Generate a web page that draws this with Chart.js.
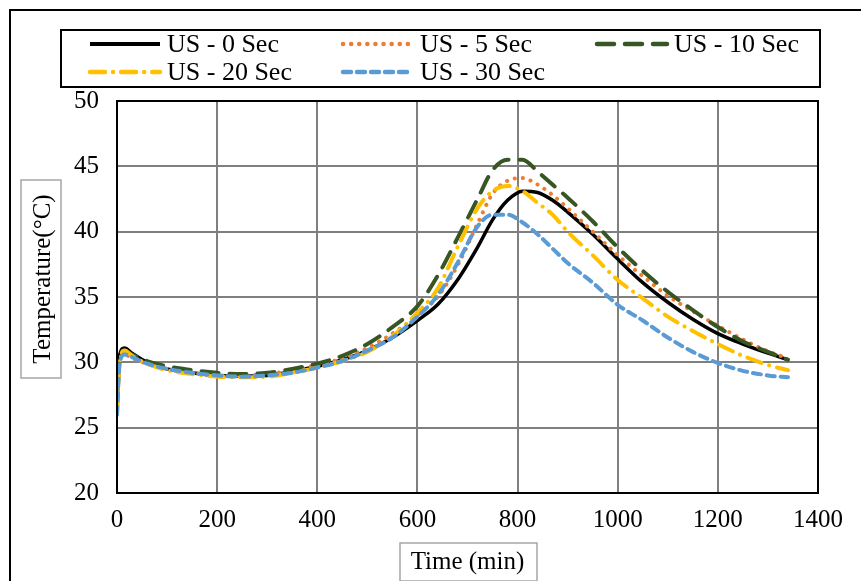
<!DOCTYPE html>
<html>
<head>
<meta charset="utf-8">
<script src="https://cdn.jsdelivr.net/npm/chart.js@4/dist/chart.umd.min.js"></script>
<style>
  html, body { margin: 0; padding: 0; background: #fff; }
  #wrap { width: 861px; height: 581px; position: relative; }
</style>
</head>
<body>
<div id="wrap"><canvas id="myChart" width="861" height="581"></canvas></div>
<script>
// time in minutes
const times = [0, 5, 15, 30, 60, 100, 150, 200, 250, 300, 350, 400, 450, 500, 550, 600, 640, 680, 720, 750, 780, 810, 840, 870, 900, 950, 1000, 1050, 1100, 1150, 1200, 1250, 1300, 1340];

const us0 = [27.0, 30.5, 31.1, 30.7, 30.0, 29.5, 29.2, 29.0, 28.95, 29.0, 29.3, 29.7, 30.2, 30.9, 31.9, 33.2, 34.4, 36.3, 38.8, 40.9, 42.4, 43.1, 43.0, 42.4, 41.5, 39.8, 37.9, 36.1, 34.6, 33.3, 32.2, 31.4, 30.7, 30.2];
const us5 = [28.0, 30.2, 30.6, 30.3, 29.9, 29.5, 29.2, 29.0, 29.0, 29.1, 29.4, 29.8, 30.3, 31.1, 32.2, 33.6, 35.0, 37.4, 40.6, 42.9, 43.9, 44.1, 43.6, 42.8, 41.8, 40.0, 38.2, 36.6, 35.1, 33.9, 32.8, 31.75, 30.85, 30.3];
const us10 = [26.5, 30.0, 30.9, 30.6, 30.1, 29.7, 29.4, 29.2, 29.1, 29.2, 29.5, 29.9, 30.5, 31.4, 32.7, 34.3, 36.6, 39.5, 42.5, 44.7, 45.5, 45.5, 44.6, 43.6, 42.6, 40.8, 38.8, 37.0, 35.4, 34.0, 32.7, 31.6, 30.8, 30.2];
const us20 = [26.0, 29.8, 30.9, 30.5, 29.9, 29.4, 29.1, 28.9, 28.85, 28.9, 29.2, 29.6, 30.1, 30.8, 32.0, 33.8, 35.6, 38.8, 41.8, 43.1, 43.5, 43.1, 42.2, 41.3, 40.0, 38.2, 36.3, 34.9, 33.5, 32.4, 31.4, 30.5, 29.8, 29.4];
const us30 = [26.0, 29.8, 30.6, 30.4, 29.9, 29.5, 29.2, 29.0, 28.9, 29.0, 29.2, 29.6, 30.1, 30.9, 31.9, 33.5, 35.1, 37.6, 40.4, 41.3, 41.3, 40.7, 39.8, 38.7, 37.6, 36.1, 34.4, 33.2, 31.9, 30.8, 29.95, 29.35, 29.0, 28.85];

const labels = ["US - 0 Sec", "US - 5 Sec", "US - 10 Sec", "US - 20 Sec", "US - 30 Sec"];
const xTicks = [0, 200, 400, 600, 800, 1000, 1200, 1400];
const yTicks = [20, 25, 30, 35, 40, 45, 50];
const yTitle = "Temperature(°C)";

const FONT = '"Liberation Serif", "Times New Roman", serif';

function pts(arr) {
  return times.map((t, i) => ({ x: t, y: arr[i] }));
}

const styles = [
  { color: "#000000", dash: [], width: 3.5, cap: "butt" },
  { color: "#ED7D31", dash: [0.1, 8], width: 4, cap: "round" },
  { color: "#375623", dash: [17, 11], width: 4, cap: "round" },
  { color: "#FFC000", dash: [15, 8, 0.1, 8], width: 4, cap: "round" },
  { color: "#5B9BD5", dash: [8, 6], width: 4, cap: "round" }
];
const series = [us0, us5, us10, us20, us30];

const datasets = series.map((arr, i) => ({
  label: labels[i],
  data: pts(arr),
  borderColor: styles[i].color,
  backgroundColor: styles[i].color,
  borderWidth: styles[i].width,
  borderDash: styles[i].dash,
  borderCapStyle: styles[i].cap,
  pointRadius: 0,
  fill: false,
  cubicInterpolationMode: "monotone",
  order: 4 - i
}));

// frame, legend box, y title and title boxes
const decor = {
  id: "decor",
  afterDraw(chart) {
    const ctx = chart.ctx;
    const a = chart.chartArea;
    ctx.save();
    // plot border
    ctx.strokeStyle = "#000";
    ctx.lineWidth = 2;
    ctx.strokeRect(a.left, a.top, a.right - a.left, a.bottom - a.top);
    // outer frame
    ctx.beginPath();
    ctx.moveTo(10, 581);
    ctx.lineTo(10, 10);
    ctx.lineTo(861, 10);
    ctx.stroke();
    // legend
    ctx.strokeRect(61, 30, 759, 57);
    const colX = [90, 343, 597];
    const rowY = [44, 72];
    ctx.font = "26px " + FONT;
    ctx.textBaseline = "middle";
    ctx.fillStyle = "#000";
    datasets.forEach((ds, i) => {
      const c = i % 3, r = Math.floor(i / 3);
      const x = colX[c], y = rowY[r];
      ctx.save();
      ctx.strokeStyle = ds.borderColor;
      ctx.lineWidth = ds.borderWidth + 0.5;
      ctx.lineCap = ds.borderCapStyle;
      ctx.setLineDash(ds.borderDash);
      ctx.beginPath();
      ctx.moveTo(x, y);
      ctx.lineTo(x + 70, y);
      ctx.stroke();
      ctx.restore();
      ctx.fillText(ds.label, x + 77, y + 1);
    });
    // y axis title
    ctx.save();
    ctx.translate(42, 279);
    ctx.rotate(-Math.PI / 2);
    ctx.textAlign = "center";
    ctx.font = "25px " + FONT;
    ctx.fillText(yTitle, 0, 1);
    ctx.restore();
    // title boxes
    ctx.strokeStyle = "#A6A6A6";
    ctx.lineWidth = 1.5;
    ctx.strokeRect(400, 543, 137, 38);
    ctx.strokeRect(21, 180, 40, 198);
    ctx.restore();
  }
};

const ctx = document.getElementById("myChart").getContext("2d");
const chart = new Chart(ctx, {
  type: "line",
  data: { datasets: datasets },
  options: {
    responsive: false,
    animation: false,
    layout: { padding: { left: 0, top: 101, right: 43, bottom: 0 } },
    plugins: { legend: { display: false }, tooltip: { enabled: false } },
    scales: {
      x: {
        type: "linear",
        min: 0,
        max: 1400,
        afterBuildTicks: (s) => { s.ticks = xTicks.map((v) => ({ value: v })); },
        afterFit: (s) => { s.height = 88; },
        grid: { color: "#7F7F7F", lineWidth: 2, drawTicks: false },
        border: { color: "#000", width: 2 },
        ticks: { color: "#000", font: { family: FONT, size: 25 }, padding: 12, maxRotation: 0, callback: (v) => String(v) },
        title: { display: true, text: "Time (min)", color: "#000", font: { family: FONT, size: 25 }, padding: { top: 0, bottom: 4 } }
      },
      y: {
        min: 20,
        max: 50,
        afterBuildTicks: (s) => { s.ticks = yTicks.map((v) => ({ value: v })); },
        afterFit: (s) => { s.width = 117; },
        grid: { color: "#7F7F7F", lineWidth: 2, drawTicks: false },
        border: { color: "#000", width: 2 },
        ticks: { color: "#000", font: { family: FONT, size: 25 }, padding: 18, callback: (v) => String(v) },
        title: { display: false }
      }
    }
  },
  plugins: [decor]
});
</script>
</body>
</html>
